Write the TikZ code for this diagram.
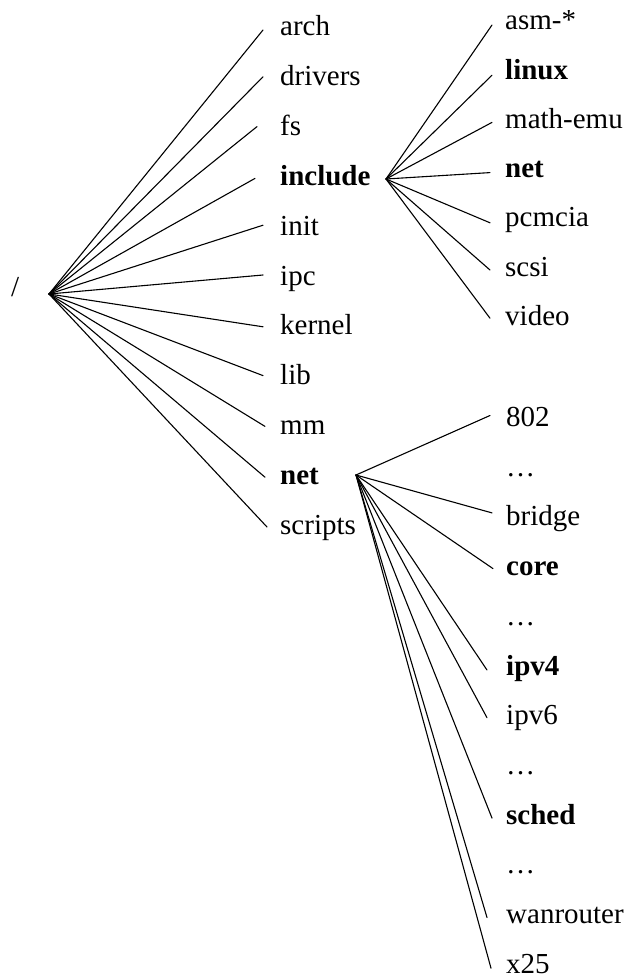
\documentclass[tikz,border=0pt]{standalone}
\usepackage{fontspec}
\setmainfont{Liberation Serif}
\begin{document}
\begin{tikzpicture}[x=1pt,y=-1pt,
  dir/.style={anchor=base west, inner sep=0pt, font=\fontsize{29}{34}\selectfont},
  key/.style={dir, font=\fontsize{29}{34}\selectfont\bfseries},
  branch/.style={line width=1.1pt, line cap=round}]
\useasboundingbox (0,0) rectangle (629,979);

% root of the source tree
\node[dir] (root) at (11,296) {/};
\coordinate (rootfan) at (49,294);

% top-level directories
\node[dir] (arch)    at (280,36)    {arch};
\node[dir] (drivers) at (280,85.8)  {drivers};
\node[dir] (fs)      at (280,135.6) {fs};
\node[key] (include) at (280,185.4) {include};
\node[dir] (init)    at (280,235.2) {init};
\node[dir] (ipc)     at (280,285)   {ipc};
\node[dir] (kernel)  at (280,334.8) {kernel};
\node[dir] (lib)     at (280,384.6) {lib};
\node[dir] (mm)      at (280,434.4) {mm};
\node[key] (net)     at (280,484.2) {net};
\node[dir] (scripts) at (280,534)   {scripts};

\draw[branch] (rootfan) -- ([shift={(-17pt,6pt)}]arch.base west);
\draw[branch] (rootfan) -- ([shift={(-17pt,9pt)}]drivers.base west);
\draw[branch] (rootfan) -- ([shift={(-23pt,9pt)}]fs.base west);
\draw[branch] (rootfan) -- ([shift={(-25pt,7pt)}]include.base west);
\draw[branch] (rootfan) -- ([shift={(-17pt,10pt)}]init.base west);
\draw[branch] (rootfan) -- ([shift={(-17pt,10pt)}]ipc.base west);
\draw[branch] (rootfan) -- ([shift={(-17pt,8pt)}]kernel.base west);
\draw[branch] (rootfan) -- ([shift={(-17pt,9pt)}]lib.base west);
\draw[branch] (rootfan) -- ([shift={(-15pt,8pt)}]mm.base west);
\draw[branch] (rootfan) -- ([shift={(-15pt,7pt)}]net.base west);
\draw[branch] (rootfan) -- ([shift={(-13pt,7pt)}]scripts.base west);

% include/
\coordinate (incfan) at (386,179);
\node[dir] (asm)     at (505,30)    {asm-*};
\node[key] (linux)   at (505,79.2)  {linux};
\node[dir] (mathemu) at (505,128.4) {math-emu};
\node[key] (incnet)  at (505,177.6) {net};
\node[dir] (pcmcia)  at (505,226.8) {pcmcia};
\node[dir] (scsi)    at (505,276)   {scsi};
\node[dir] (video)   at (505,325.2) {video};

\draw[branch] (incfan) -- ([shift={(-13pt,5pt)}]asm.base west);
\draw[branch] (incfan) -- ([shift={(-13pt,4pt)}]linux.base west);
\draw[branch] (incfan) -- ([shift={(-13pt,6pt)}]mathemu.base west);
\draw[branch] (incfan) -- ([shift={(-15pt,5pt)}]incnet.base west);
\draw[branch] (incfan) -- ([shift={(-15pt,4pt)}]pcmcia.base west);
\draw[branch] (incfan) -- ([shift={(-15pt,6pt)}]scsi.base west);
\draw[branch] (incfan) -- ([shift={(-15pt,7pt)}]video.base west);

% net/
\coordinate (netfan) at (356,475);
\node[dir] (n802)   at (506,426.5) {802};
\node[dir] (dotsa)  at (506,476.2) {…};
\node[dir] (bridge) at (506,525.9) {bridge};
\node[key] (core)   at (506,575.6) {core};
\node[dir] (dotsb)  at (506,625.3) {…};
\node[key] (ipv4)   at (506,675)   {ipv4};
\node[dir] (ipv6)   at (506,724.7) {ipv6};
\node[dir] (dotsc)  at (506,774.4) {…};
\node[key] (sched)  at (506,824.1) {sched};
\node[dir] (dotsd)  at (506,873.8) {…};
\node[dir] (wan)    at (506,923.5) {wanrouter};
\node[dir] (x25)    at (506,973.2) {x25};

\draw[branch] (netfan) -- ([shift={(-16pt,11pt)}]n802.base west);
\draw[branch] (netfan) -- ([shift={(-14pt,13pt)}]bridge.base west);
\draw[branch] (netfan) -- ([shift={(-13pt,7pt)}]core.base west);
\draw[branch] (netfan) -- ([shift={(-19pt,5pt)}]ipv4.base west);
\draw[branch] (netfan) -- ([shift={(-19pt,7pt)}]ipv6.base west);
\draw[branch] (netfan) -- ([shift={(-14pt,6pt)}]sched.base west);
\draw[branch] (netfan) -- ([shift={(-19pt,6pt)}]wan.base west);
\draw[branch] (netfan) -- ([shift={(-15pt,5pt)}]x25.base west);
\end{tikzpicture}
\end{document}
